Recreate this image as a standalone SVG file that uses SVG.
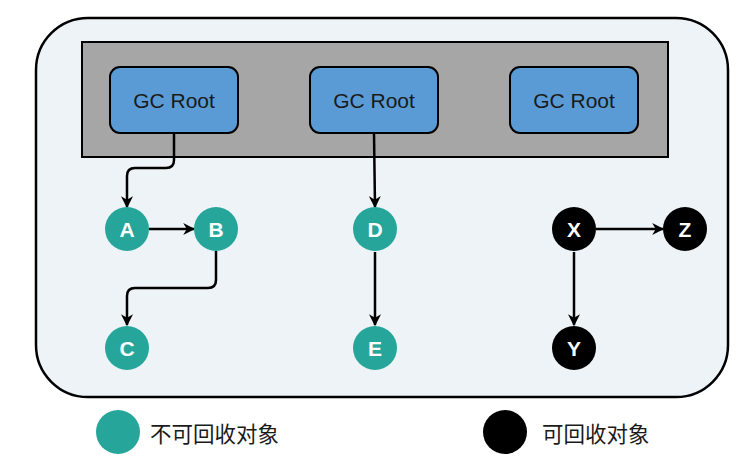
<svg xmlns="http://www.w3.org/2000/svg" width="752" height="463" viewBox="0 0 752 463">
<style>
.root rect{fill:#5b9bd5;stroke:#000;stroke-width:2}
.root text{font-family:"Liberation Sans",Arial,sans-serif;font-size:21px;fill:#1a1a1a;text-anchor:middle}
.keep circle{fill:#26a69a}
.free circle{fill:#000}
.n text{font-family:"Liberation Sans",Arial,sans-serif;font-size:21px;font-weight:bold;fill:#fff;text-anchor:middle}
.conn path{fill:none;stroke:#000;stroke-width:2.5;marker-end:url(#arr)}
.leg{font-family:"Noto Sans CJK SC","Noto Sans",sans-serif;font-size:21.5px;fill:#1a1a1a}
</style>
<defs>
<marker id="arr" viewBox="0 0 10 10" refX="9" refY="5" markerWidth="12" markerHeight="12" markerUnits="userSpaceOnUse" orient="auto">
<path d="M0,0 L10,5 L0,10 L3,5 Z" fill="#000"/>
</marker>
</defs>
<rect x="36" y="18" width="692" height="379" rx="52" fill="#edf3f7" stroke="#000" stroke-width="2.5"/>
<rect x="82" y="42" width="586" height="115" fill="#a6a6a6" stroke="#000" stroke-width="2"/>
<g id="root1" class="root"><rect x="110" y="67" width="128" height="66" rx="10"/><text x="174" y="108">GC Root</text></g>
<g id="root2" class="root"><rect x="310" y="67" width="128" height="66" rx="10"/><text x="374" y="108">GC Root</text></g>
<g id="root3" class="root"><rect x="510" y="67" width="128" height="66" rx="10"/><text x="574" y="108">GC Root</text></g>
<g class="conn">
<path d="M174 133 V160 Q174 168 166 168 H135 Q127 168 127 176 V207"/>
<path d="M149 229 H194"/>
<path d="M216 251 V280 Q216 288 208 288 H135 Q127 288 127 296 V325"/>
<path d="M374 133 L375 207"/>
<path d="M375 252 V325"/>
<path d="M596 229 H663"/>
<path d="M574 252 V325"/>
</g>
<g id="A" class="n keep"><circle cx="127" cy="229" r="22"/><text x="127" y="237">A</text></g>
<g id="B" class="n keep"><circle cx="216" cy="229" r="22"/><text x="216" y="237">B</text></g>
<g id="C" class="n keep"><circle cx="127" cy="348" r="22"/><text x="127" y="356">C</text></g>
<g id="D" class="n keep"><circle cx="375" cy="229" r="22"/><text x="375" y="237">D</text></g>
<g id="E" class="n keep"><circle cx="375" cy="348" r="22"/><text x="375" y="356">E</text></g>
<g id="X" class="n free"><circle cx="574" cy="229" r="22"/><text x="574" y="237">X</text></g>
<g id="Z" class="n free"><circle cx="685" cy="229" r="22"/><text x="685" y="237">Z</text></g>
<g id="Y" class="n free"><circle cx="574" cy="348" r="22"/><text x="574" y="356">Y</text></g>
<g id="legend-keep"><circle cx="118" cy="432" r="22" fill="#26a69a"/><text class="leg" x="150" y="442">不可回收对象</text></g>
<g id="legend-free"><circle cx="505" cy="432" r="22" fill="#000"/><text class="leg" x="542" y="442">可回收对象</text></g>
</svg>
